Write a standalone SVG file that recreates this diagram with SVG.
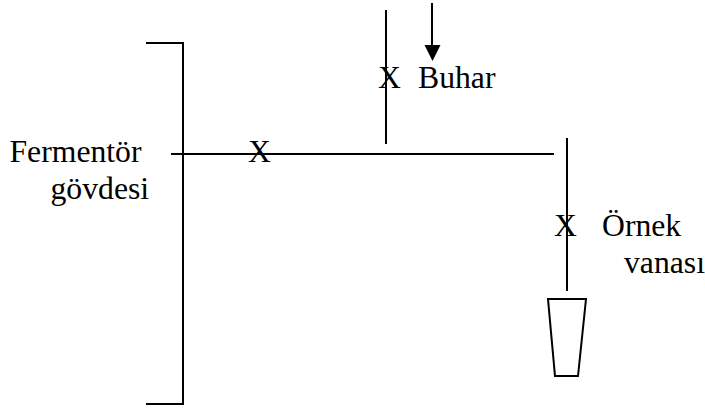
<svg xmlns="http://www.w3.org/2000/svg" width="705" height="410" viewBox="0 0 705 410">
<defs><style>
.l{stroke:#000;stroke-width:2;fill:none}
text{font-family:"Liberation Serif","Times New Roman",serif;font-size:31.700px;fill:#000}
</style>
</defs>
<rect width="705" height="410" fill="#fff"/>
<g id="connectors">
<path class="l" d="M171 154H554"/>
<path class="l" d="M386 10V144"/>
<path class="l" d="M567 138V291"/>
<path class="l" d="M432 3V46"/>
<path d="M424.500 45H440.500L432.500 61Z" fill="#000"/>
</g>
<g id="govde"><path class="l" d="M146 43H183V404H146"/></g>
<g id="kap"><path class="l" d="M548 299H586L578 376H555Z"/></g>
<g id="v1"><text x="248" y="162">X</text></g>
<g id="v2"><text x="378" y="88">X</text></g>
<g id="v3"><text x="554" y="236">X</text></g>
<g id="l1"><text x="418" y="88">Buhar</text></g>
<g id="l2"><text x="9.500" y="162">Fermentör</text><text x="50.500" y="199">gövdesi</text></g>
<g id="l3"><text x="602" y="236">Örnek</text><text x="624" y="273">vanası</text></g>
</svg>
